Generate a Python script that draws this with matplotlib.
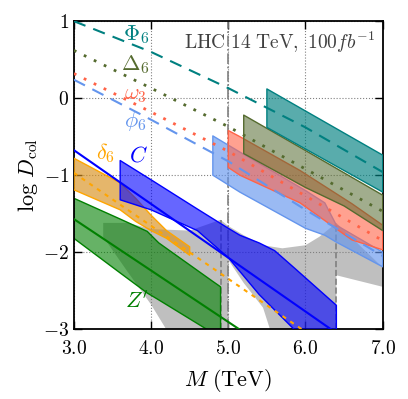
import matplotlib
matplotlib.use('Agg')
import matplotlib.pyplot as plt

plt.rcParams['mathtext.fontset'] = 'cm'
plt.rcParams['font.family'] = 'serif'
plt.rcParams['font.serif'] = ['DejaVu Serif']

# central predictions, M in TeV vs log D_col
line_x = [3.0, 4.0, 5.0, 6.0, 7.0]
Phi6_line = [1.00, 0.60, 0.13, -0.38, -0.96]
Delta6_line = [0.62, 0.13, -0.37, -0.92, -1.47]
omega3_line = [0.32, -0.18, -0.69, -1.27, -1.85]
phi6_line = [0.24, -0.28, -0.82, -1.45, -2.05]

C_line_x = [3.0, 6.4]
C_line = [-0.675, -3.05]
Zp_line_x = [3.0, 5.2]
Zp_line = [-1.57, -3.04]
delta6_line_x = [3.0, 5.95]
delta6_line = [-0.97, -3.0]

# bands (x, lower, upper)
Phi6_x = [5.5, 7.0]
Phi6_lo = [-0.38, -1.22]
Phi6_hi = [0.12, -0.74]

Delta6_x = [5.2, 6.0, 6.5, 7.0]
Delta6_lo = [-0.72, -1.16, -1.40, -1.72]
Delta6_hi = [-0.22, -0.68, -0.97, -1.26]

omega3_x = [5.0, 5.15, 5.93, 6.6, 7.0]
omega3_lo = [-0.90, -1.00, -1.36, -1.84, -1.97]
omega3_hi = [-0.42, -0.50, -0.94, -1.37, -1.65]

phi6_x = [4.8, 5.15, 6.0, 6.25, 6.4, 7.0]
phi6_lo = [-1.00, -1.22, -1.69, -1.78, -1.87, -2.19]
phi6_hi = [-0.49, -0.70, -1.20, -1.36, -1.65, -2.00]

C_x = [3.6, 4.0, 4.6, 5.0, 5.15, 5.4, 5.6, 5.85, 6.4]
C_lo = [-1.32, -1.45, -1.72, -2.07, -2.25, -2.55, -2.75, -3.0, -3.6]
C_hi = [-0.81, -1.06, -1.44, -1.69, -1.78, -1.88, -1.98, -2.2, -2.69]

delta6_x = [3.0, 3.6, 3.8, 4.0, 4.2, 4.5]
delta6_lo = [-1.19, -1.45, -1.60, -1.72, -1.82, -2.04]
delta6_hi = [-0.78, -1.10, -1.30, -1.52, -1.72, -1.93]

Zp_x = [3.0, 3.6, 3.95, 4.1, 4.8, 4.9]
Zp_lo = [-1.82, -2.27, -2.53, -2.62, -3.05, -3.12]
Zp_hi = [-1.30, -1.57, -1.73, -1.88, -2.38, -2.45]

gray_x = [3.38, 3.70, 4.00, 4.50, 4.90, 5.00, 5.00, 5.20, 5.45, 5.70, 6.00, 6.18, 6.40, 6.40, 7.00]
gray_lo = [-1.80, -2.26, -2.68, -3.50, -3.50, -3.50, -2.10, -2.40, -2.72, -3.50, -3.50, -3.50, -3.50, -2.30, -2.45]
gray_hi = [-1.62, -1.62, -1.70, -1.72, -1.58, -1.66, -1.66, -1.78, -1.91, -1.95, -1.91, -1.80, -1.62, -1.62, -2.20]

vline_x = [4.9, 6.4]
vline_top = [-1.58, -1.62]

xticks = [3, 4, 5, 6, 7]
xticklabels = ['$3.0$', '$4.0$', '$5.0$', '$6.0$', '$7.0$']
yticks = [-3, -2, -1, 0, 1]
yticklabels = ['$-3$', '$-2$', '$-1$', '$0$', '$1$']


def band(ax, x, lo, hi, color, alpha, z, face=None):
    ax.fill_between(x, lo, hi, facecolor=face or color, alpha=alpha,
                    edgecolor='none', zorder=z)
    ax.fill_between(x, lo, hi, facecolor='none', edgecolor=color,
                    lw=1.0, zorder=z + 0.1)


fig = plt.figure(figsize=(4.08, 3.99), dpi=100)
ax = fig.add_axes([0.181, 0.175, 0.757, 0.772])

ax.fill_between(gray_x, gray_lo, gray_hi, facecolor='gray', alpha=0.5,
                edgecolor='none', zorder=1)
ax.vlines(vline_x, -3.0, vline_top, colors='gray', linestyles='--', lw=1.2, zorder=1.5)
ax.axvline(5.0, color='gray', ls='-.', lw=1.2, zorder=1.5)

band(ax, Zp_x, Zp_lo, Zp_hi, 'green', 0.6, 2)
band(ax, delta6_x, delta6_lo, delta6_hi, 'orange', 0.65, 3, face='#d8901c')
band(ax, C_x, C_lo, C_hi, 'blue', 0.6, 4)
band(ax, phi6_x, phi6_lo, phi6_hi, 'cornflowerblue', 0.65, 5)
band(ax, omega3_x, omega3_lo, omega3_hi, 'tomato', 0.6, 6)
band(ax, Delta6_x, Delta6_lo, Delta6_hi, 'darkolivegreen', 0.55, 7)
band(ax, Phi6_x, Phi6_lo, Phi6_hi, 'teal', 0.65, 8)

ax.plot(Zp_line_x, Zp_line, color='green', lw=1.5, zorder=9)
ax.plot(delta6_line_x, delta6_line, color='orange', lw=1.5, ls=(0, (2, 2.5)), zorder=9)
ax.plot(C_line_x, C_line, color='blue', lw=1.5, zorder=9)
ax.plot(line_x, phi6_line, color='cornflowerblue', lw=1.5, ls=(0, (6, 4)), zorder=9)
ax.plot(line_x, omega3_line, color='tomato', lw=2, ls=(0, (1, 3)), zorder=9)
ax.plot(line_x, Delta6_line, color='darkolivegreen', lw=2, ls=(0, (1, 3)), zorder=9)
ax.plot(line_x, Phi6_line, color='teal', lw=1.5, ls=(0, (6, 4)), zorder=9)

ax.text(3.8, 0.83, r'$\Phi_6$', color='teal', fontsize=16, ha='center', va='center')
ax.text(3.8, 0.43, r'$\Delta_6$', color='darkolivegreen', fontsize=16, ha='center', va='center')
ax.text(3.8, 0.05, r'$\omega_3$', color='tomato', fontsize=16, ha='center', va='center')
ax.text(3.8, -0.30, r'$\phi_6$', color='cornflowerblue', fontsize=16, ha='center', va='center')
ax.text(3.41, -0.71, r'$\delta_6$', color='orange', fontsize=16, ha='center', va='center')
ax.text(3.83, -0.75, r'$C$', color='blue', fontsize=16, ha='center', va='center')
ax.text(3.82, -2.65, r"$Z'$", color='green', fontsize=16, ha='center', va='center')
ax.text(6.9, 0.72, r'$\mathrm{LHC\ 14\ TeV,}\ 100fb^{-1}$', color='0.25',
        fontsize=14, ha='right', va='center')

ax.set_xlim(3, 7)
ax.set_ylim(-3, 1)
ax.set_xticks(xticks)
ax.set_xticklabels(xticklabels, fontsize=14)
ax.set_yticks(yticks)
ax.set_yticklabels(yticklabels, fontsize=14)
ax.tick_params(direction='in', top=True, right=True, length=6, width=1)
ax.tick_params(axis='x', pad=8)
ax.grid(True, ls=':', color='gray', lw=0.8)
ax.set_axisbelow(True)
for s in ax.spines.values():
    s.set_linewidth(1.3)
ax.set_xlabel(r'$M\ \mathrm{(TeV)}$', fontsize=16, labelpad=6)
ax.set_ylabel(r'$\log\,D_{\rm col}$', fontsize=16, labelpad=2)

fig.savefig('out.png', dpi=100)
